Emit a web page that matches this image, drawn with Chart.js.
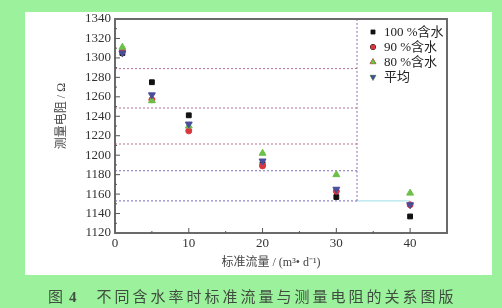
<!DOCTYPE html>
<html>
<head>
<meta charset="utf-8">
<script src="https://cdn.jsdelivr.net/npm/chart.js@4.4.0/dist/chart.umd.min.js"></script>
<style>
    html, body { margin: 0; padding: 0; }
    #wrap { position: relative; width: 502px; height: 308px; background: #9cf29c; overflow: hidden; }
    #panel { position: absolute; left: 25px; top: 12px; width: 467px; height: 263px; background: #fff; }
    #chartCanvas { position: absolute; left: 0; top: 0; }
    #caption { position: absolute; left: 48px; top: 285px; font-size: 15px; font-family: "Noto Sans CJK SC"; color: #3f4d3f; white-space: nowrap; }
    #caption .num { font-family: "Liberation Serif"; font-weight: bold; margin-left: 6px; }
    #caption .txt { margin-left: 20px; letter-spacing: 3px; }
</style>
</head>
<body>
<div id="wrap">
    <div id="panel"></div>
    <canvas id="chartCanvas" width="502" height="308"></canvas>
    <div id="caption">图<span class="num">4</span><span class="txt">不同含水率时标准流量与测量电阻的关系图版</span></div>
</div>
<script>
// standard flow (x) and measured resistance for each water content
const flow = [1, 5, 10, 20, 30, 40];
const water100 = [1305, 1275, 1241, 1191, 1157, 1137];
const water90 = [1307, 1257, 1225, 1189, 1163, 1149];
const water80 = [1311, 1256, 1230, 1202, 1180, 1161];
const average = [1305, 1262, 1232, 1194, 1165, 1149];

const seriesLabels = ['100 %含水', '90 %含水', '80 %含水', '平均'];

// tick labels
const xTicks = [0, 10, 20, 30, 40];
const yTicks = [1120, 1140, 1160, 1180, 1200, 1220, 1240, 1260, 1280, 1300, 1320, 1340];

// dotted reference levels and where they stop
const refUpper = [1289, 1248.5, 1211.5];
const refLower = [1184, 1153];
const refEndX = 32.8;
const refTailX = 40;

const serif = 'Liberation Serif, "Noto Sans CJK SC", serif';

//Turns two arrays into scatter points
function toPoints(xs, ys) {
    return xs.map((x, i) => ({ x: x, y: ys[i] }));
}

//Horizontal dotted line from the y axis to the vertical divider
function refLine(level, color) {
    return {
        data: [{ x: 0, y: level }, { x: refEndX, y: level }],
        showLine: true, pointRadius: 0, borderColor: color,
        borderWidth: 1, borderDash: [2, 2], isRef: true, order: 10
    };
}

const markerSets = [
    { label: seriesLabels[0], data: toPoints(flow, water100), pointStyle: 'rect', pointRadius: 3.4, backgroundColor: '#111', borderColor: '#111', order: 4 },
    { label: seriesLabels[1], data: toPoints(flow, water90), pointStyle: 'circle', pointRadius: 3, backgroundColor: '#d9363e', borderColor: '#d9363e', order: 3 },
    { label: seriesLabels[2], data: toPoints(flow, water80), pointStyle: 'triangle', pointRadius: 4, backgroundColor: '#6cc04a', borderColor: '#6cc04a', order: 2 },
    { label: seriesLabels[3], data: toPoints(flow, average), pointStyle: 'triangle', pointRotation: 180, pointRadius: 4, backgroundColor: '#4a4d9a', borderColor: '#4a4d9a', order: 1 }
];

const refSets = [
    ...refUpper.map(v => refLine(v, '#b56f93')),
    ...refLower.map(v => refLine(v, '#7b6fb8')),
    {
        data: [{ x: refEndX, y: 1153 }, { x: refEndX, y: 1340 }],
        showLine: true, pointRadius: 0, borderColor: '#9d6aa8', borderWidth: 1, borderDash: [2, 2], isRef: true, order: 10
    },
    {
        data: [{ x: refEndX, y: 1153 }, { x: refTailX, y: 1153 }],
        showLine: true, pointRadius: 0, borderColor: '#9fe0e6', borderWidth: 1, isRef: true, order: 10
    }
];

//Draws the frame, inner ticks, axis titles and the legend
const framePlugin = {
    id: 'frame',
    afterDraw(chart) {
        const ctx = chart.ctx;
        const area = chart.chartArea;
        const xs = chart.scales.x;
        const ys = chart.scales.y;
        ctx.save();
        ctx.strokeStyle = '#6a6a6a';
        ctx.lineWidth = 2;
        ctx.strokeRect(area.left, area.top, area.right - area.left, area.bottom - area.top);

        // inner ticks
        ctx.lineWidth = 1;
        ctx.strokeStyle = '#555';
        ctx.beginPath();
        for (let v = 5; v < 45; v += 5) {
            const px = xs.getPixelForValue(v);
            const len = v % 10 === 0 ? 5 : 2;
            ctx.moveTo(px, area.bottom);
            ctx.lineTo(px, area.bottom - len);
        }
        for (let v = 1130; v < 1340; v += 10) {
            const py = ys.getPixelForValue(v);
            const len = v % 20 === 0 ? 5 : 2;
            ctx.moveTo(area.left, py);
            ctx.lineTo(area.left + len, py);
        }
        ctx.stroke();

        // axis titles
        ctx.fillStyle = '#444';
        ctx.font = '12px ' + serif;
        ctx.textAlign = 'center';
        ctx.textBaseline = 'middle';
        ctx.fillText('标准流量 / (m³• d⁻¹)', 271, 263);
        ctx.save();
        ctx.translate(62, 116);
        ctx.rotate(-Math.PI / 2);
        ctx.fillText('测量电阻 / Ω', 0, 0);
        ctx.restore();

        // legend
        ctx.font = '13px ' + serif;
        ctx.textAlign = 'left';
        ctx.fillStyle = '#222';
        const rows = [32, 47, 62, 77];
        markerSets.forEach((ds, i) => {
            Chart.helpers.drawPoint(ctx, {
                pointStyle: ds.pointStyle, radius: ds.pointRadius * 0.85,
                rotation: ds.pointRotation || 0, borderWidth: 1
            }, 373, rows[i]);
            ctx.fillStyle = ds.backgroundColor;
            ctx.strokeStyle = ds.borderColor;
            ctx.fill();
            ctx.fillStyle = '#222';
            ctx.fillText(ds.label, 384, rows[i] + 1);
        });
        ctx.restore();
    }
};

const ctx = document.getElementById('chartCanvas');
window.myChart = new Chart(ctx, {
    type: 'scatter',
    data: { datasets: [...markerSets, ...refSets] },
    options: {
        responsive: false,
        animation: false,
        layout: { padding: { top: 19, right: 55, left: 0, bottom: 0 } },
        plugins: { legend: { display: false }, tooltip: { enabled: false } },
        scales: {
            x: {
                type: 'linear', min: 0, max: 45,
                afterBuildTicks: s => { s.ticks = xTicks.map(v => ({ value: v })); },
                afterFit: s => { s.height = 75; },
                grid: { display: false, drawTicks: false },
                border: { display: false },
                ticks: { padding: 3, color: '#333', maxRotation: 0, callback: v => String(v), font: { family: serif, size: 13 } }
            },
            y: {
                type: 'linear', min: 1120, max: 1340,
                afterBuildTicks: s => { s.ticks = yTicks.map(v => ({ value: v })); },
                afterFit: s => { s.width = 115; },
                grid: { display: false, drawTicks: false },
                border: { display: false },
                ticks: { padding: 4, color: '#333', callback: v => String(v), font: { family: serif, size: 13 } }
            }
        }
    },
    plugins: [framePlugin]
});
</script>
</body>
</html>
